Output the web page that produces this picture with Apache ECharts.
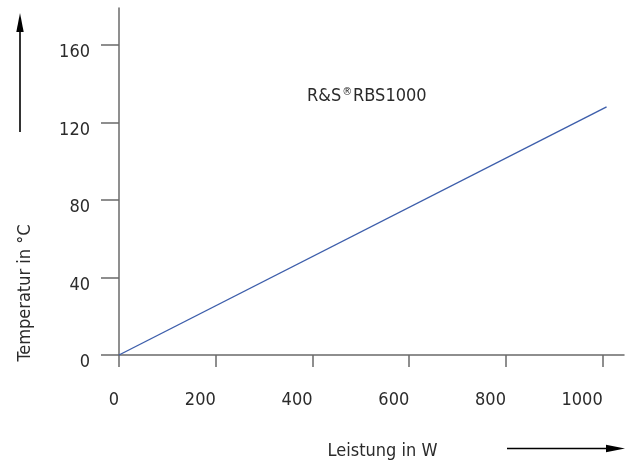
<!DOCTYPE html>
<html>
<head>
<meta charset="utf-8">
<script src="https://cdn.jsdelivr.net/npm/echarts@6/dist/echarts.min.js"></script>
<style>
html,body{margin:0;padding:0;background:#fff;}
#c{width:625px;height:463px;}
</style>
</head>
<body>
<div id="c"></div>
<script>
// Data
var powerW = [0, 1008];
var tempC = [0, 128];
var xTicks = [0, 200, 400, 600, 800, 1000];
var yTicks = [0, 40, 80, 120, 160];
var seriesName = 'R&S®RBS1000';
var xName = 'Leistung in W';
var yName = 'Temperatur in °C';

var FONT = '"DejaVu Sans Condensed", "Liberation Sans", sans-serif';
var TXT = '#2b2b2b';
var AX = '#6a6a6a';

var points = powerW.map(function (x, i) { return [x, tempC[i]]; });
function plain(v) { return String(v); }

var chart = echarts.init(document.getElementById('c'), null, {renderer: 'canvas'});
chart.setOption({
  animation: false,
  backgroundColor: '#ffffff',
  grid: {left: 119, right: 1, top: 8, bottom: 108, containLabel: false},
  xAxis: {
    type: 'value', min: 0, max: 1044,
    axisLine: {show: true, onZero: false, lineStyle: {color: AX, width: 1.5}},
    axisTick: {show: true, inside: false, length: 12, customValues: xTicks, lineStyle: {color: AX, width: 1.5}},
    axisLabel: {customValues: xTicks, formatter: plain, color: TXT, fontFamily: FONT, fontSize: 18, margin: 45,
      align: 'right', verticalAlign: 'middle'},
    splitLine: {show: false}
  },
  yAxis: {
    type: 'value', min: 0, max: 179,
    axisLine: {show: true, onZero: false, lineStyle: {color: AX, width: 1.5}},
    axisTick: {show: true, inside: false, length: 18, customValues: yTicks, lineStyle: {color: AX, width: 1.5}},
    axisLabel: {customValues: yTicks, formatter: plain, color: TXT, fontFamily: FONT, fontSize: 18, margin: 29,
      align: 'right', verticalAlign: 'top', lineHeight: 15},
    splitLine: {show: false}
  },
  series: [{
    name: seriesName,
    type: 'line',
    data: points,
    showSymbol: false,
    lineStyle: {color: '#3d5eab', width: 1.4},
    silent: true
  }],
  graphic: [
    {type: 'text', left: 307, top: 87, style: {
      text: 'R&S{sup|®}RBS1000', fill: TXT, font: '18px ' + FONT,
      rich: {sup: {fontSize: 11, fontFamily: FONT, fill: TXT, verticalAlign: 'top', padding: [0, 1, 8, 1]}}
    }},
    {type: 'text', x: 25, y: 293, rotation: Math.PI / 2, style: {
      text: yName, fill: TXT, font: '18px ' + FONT, align: 'center', verticalAlign: 'middle'
    }},
    {type: 'text', x: 382.5, y: 451, style: {
      text: xName, fill: TXT, font: '18px ' + FONT, align: 'center', verticalAlign: 'middle'
    }},
    {type: 'line', shape: {x1: 20, y1: 132, x2: 20, y2: 28}, style: {stroke: '#000', lineWidth: 1.6}},
    {type: 'polygon', shape: {points: [[20, 13], [16.3, 32], [23.7, 32]]}, style: {fill: '#000'}},
    {type: 'line', shape: {x1: 507, y1: 448.5, x2: 610, y2: 448.5}, style: {stroke: '#000', lineWidth: 1.6}},
    {type: 'polygon', shape: {points: [[625, 448.5], [606, 444.8], [606, 452.2]]}, style: {fill: '#000'}}
  ]
});
</script>
</body>
</html>
